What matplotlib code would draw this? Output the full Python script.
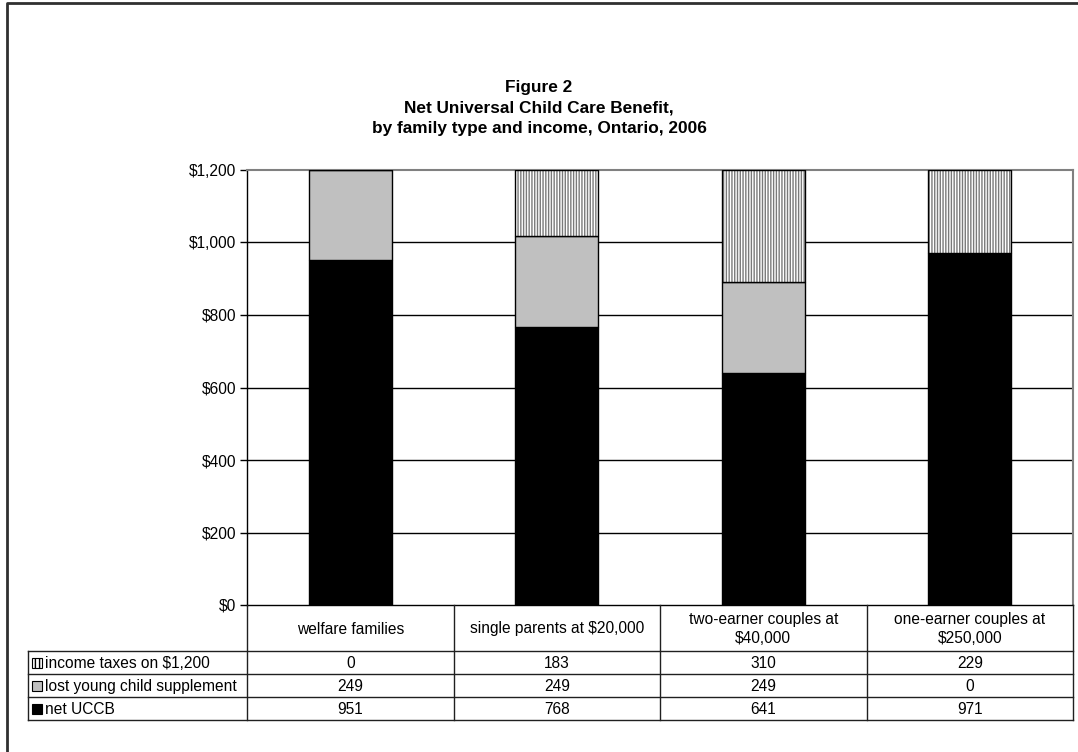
import matplotlib
matplotlib.use("Agg")
import matplotlib.pyplot as plt
from matplotlib.patches import Rectangle
import numpy as np

plt.rcParams["font.family"] = ["Liberation Sans", "DejaVu Sans"]

# data
categories = ["welfare families", "single parents at $20,000",
              "two-earner couples at\n$40,000", "one-earner couples at\n$250,000"]
series_names = ["income taxes on $1,200", "lost young child supplement", "net UCCB"]
income_taxes = [0, 183, 310, 229]
lost_supplement = [249, 249, 249, 0]
net_uccb = [951, 768, 641, 971]
y_ticks = [0, 200, 400, 600, 800, 1000, 1200]

W, H = 1078, 752
FS = 11.2
fig = plt.figure(figsize=(W / 100, H / 100), dpi=100)

# plot area in pixels
px_left, px_right, px_top, px_bottom = 247, 1073, 170, 605
ax = fig.add_axes([px_left / W, 1 - px_bottom / H,
                   (px_right - px_left) / W, (px_bottom - px_top) / H])

x = np.arange(len(categories))
bw = 0.4
net = np.array(net_uccb)
lost = np.array(lost_supplement)
tax = np.array(income_taxes)

ax.bar(x, net, bw, color="black", edgecolor="black", linewidth=1, zorder=3)
ax.bar(x, lost, bw, bottom=net, color="#c0c0c0", edgecolor="black", linewidth=1, zorder=3)
# hatch in grey, then outline in black
ax.bar(x, tax, bw, bottom=net + lost, color="white", edgecolor="#7a7a7a",
       hatch="||||||", linewidth=0, zorder=3)
ax.bar(x, tax, bw, bottom=net + lost, fill=False, edgecolor="black", linewidth=1, zorder=4)

ax.set_xlim(-0.5, len(categories) - 0.5)
ax.set_ylim(0, 1200)
ax.set_yticks(y_ticks)
ax.set_yticklabels([f"${v:,}" for v in y_ticks], fontsize=FS)
ax.set_xticks([])
ax.tick_params(axis="y", length=5, width=1, pad=3)
for v in y_ticks[1:-1]:
    ax.axhline(v, color="black", linewidth=1, zorder=1)
ax.spines["top"].set_color("#808080")
ax.spines["right"].set_color("#808080")
ax.spines["top"].set_linewidth(1.5)
ax.spines["right"].set_linewidth(1.5)
ax.spines["left"].set_linewidth(1)
ax.spines["bottom"].set_linewidth(1)

# title
fig.text(0.5, 1 - 80 / H,
         "Figure 2\nNet Universal Child Care Benefit,\nby family type and income, Ontario, 2006",
         ha="center", va="top", fontsize=12.4, fontweight="bold", linespacing=1.45)

# overlay axes in pixel coords for table and frame
ov = fig.add_axes([0, 0, 1, 1])
ov.set_xlim(0, W)
ov.set_ylim(H, 0)
ov.axis("off")

# outer frame
ov.plot([7, 7, W + 5], [H + 5, 3, 3], color="#303030", linewidth=2)

tbl_left = 28
header_bottom = 651
row_h = 23
n_rows = len(series_names)
col_w = (px_right - px_left) / len(categories)
col_edges = [px_left + i * col_w for i in range(len(categories) + 1)]
tbl_bottom = header_bottom + n_rows * row_h

lc = "#202020"
lw = 1
for xe in col_edges:
    ov.plot([xe, xe], [px_bottom, tbl_bottom], color=lc, linewidth=lw)
ov.plot([tbl_left, tbl_left], [header_bottom, tbl_bottom], color=lc, linewidth=lw)
for i in range(n_rows + 1):
    yy = header_bottom + i * row_h
    ov.plot([tbl_left, px_right], [yy, yy], color=lc, linewidth=lw)

for i, cat in enumerate(categories):
    ov.text(col_edges[i] + col_w / 2, (px_bottom + header_bottom) / 2 + 1, cat,
            ha="center", va="center", fontsize=FS, linespacing=1.3)

rows = [income_taxes, lost_supplement, net_uccb]
key_styles = [dict(facecolor="white", edgecolor="black", hatch="||||"),
              dict(facecolor="#c0c0c0", edgecolor="black"),
              dict(facecolor="black", edgecolor="black")]
for r, (name, vals, ks) in enumerate(zip(series_names, rows, key_styles)):
    yc = header_bottom + r * row_h + row_h / 2
    ov.add_patch(Rectangle((32, yc - 5), 10, 10, linewidth=0.8, **ks))
    ov.text(45, yc + 1, name, ha="left", va="center", fontsize=FS)
    for i, v in enumerate(vals):
        ov.text(col_edges[i] + col_w / 2, yc + 1, f"{v}", ha="center", va="center", fontsize=FS)

fig.savefig("out.png", dpi=100)
